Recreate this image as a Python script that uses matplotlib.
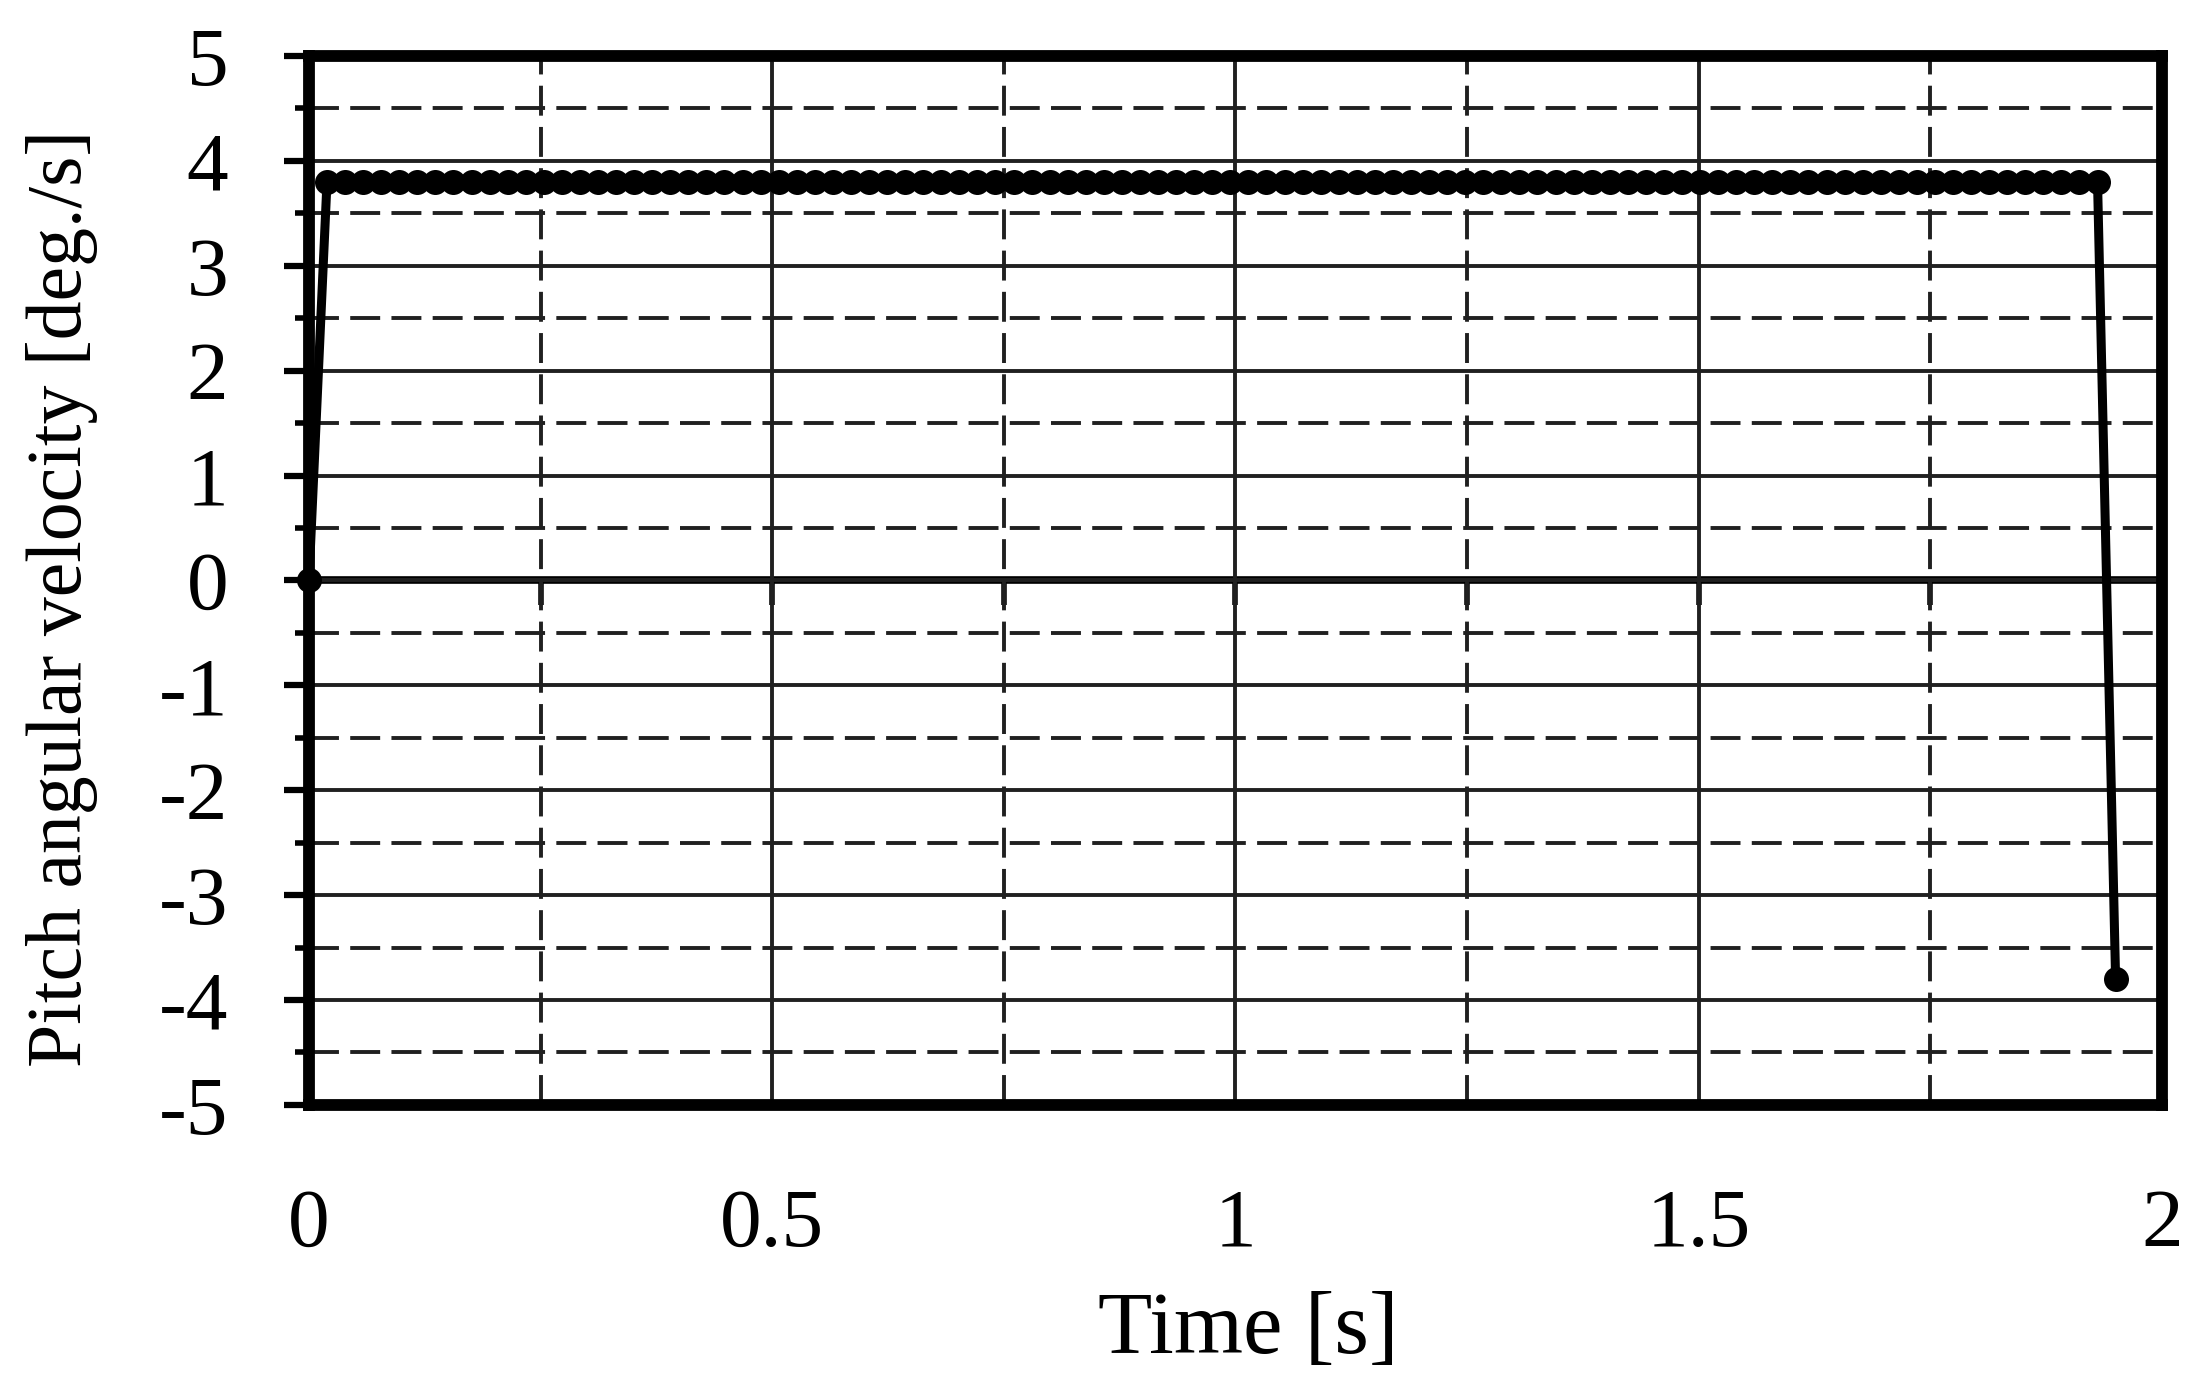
import matplotlib
matplotlib.use('Agg')
import matplotlib.pyplot as plt
from matplotlib.ticker import MultipleLocator, FuncFormatter, NullFormatter

plt.rcParams['font.family'] = ['Liberation Serif', 'DejaVu Serif']
plt.rcParams['axes.unicode_minus'] = False

# Time samples [s]
time_s = [
    0.0, 0.0195, 0.039, 0.0585, 0.078, 0.0975, 0.117, 0.1365, 0.156, 0.1755,
    0.195, 0.2145, 0.234, 0.2535, 0.273, 0.2925, 0.312, 0.3315, 0.351, 0.3705,
    0.39, 0.4095, 0.429, 0.4485, 0.468, 0.4875, 0.507, 0.5265, 0.546, 0.5655,
    0.585, 0.6045, 0.624, 0.6435, 0.663, 0.6825, 0.702, 0.7215, 0.741, 0.7605,
    0.78, 0.7995, 0.819, 0.8385, 0.858, 0.8775, 0.897, 0.9165, 0.936, 0.9555,
    0.975, 0.9945, 1.014, 1.0335, 1.053, 1.0725, 1.092, 1.1115, 1.131, 1.1505,
    1.17, 1.1895, 1.209, 1.2285, 1.248, 1.2675, 1.287, 1.3065, 1.326, 1.3455,
    1.365, 1.3845, 1.404, 1.4235, 1.443, 1.4625, 1.482, 1.5015, 1.521, 1.5405,
    1.56, 1.5795, 1.599, 1.6185, 1.638, 1.6575, 1.677, 1.6965, 1.716, 1.7355,
    1.755, 1.7745, 1.794, 1.8135, 1.833, 1.8525, 1.872, 1.8915, 1.911, 1.9305,
    1.95,
]

# Pitch angular velocity [deg./s]
pitch_rate = [
    0.0,
    3.8, 3.8, 3.8, 3.8, 3.8, 3.8, 3.8, 3.8, 3.8, 3.8, 3.8,
    3.8, 3.8, 3.8, 3.8, 3.8, 3.8, 3.8, 3.8, 3.8, 3.8, 3.8,
    3.8, 3.8, 3.8, 3.8, 3.8, 3.8, 3.8, 3.8, 3.8, 3.8, 3.8,
    3.8, 3.8, 3.8, 3.8, 3.8, 3.8, 3.8, 3.8, 3.8, 3.8, 3.8,
    3.8, 3.8, 3.8, 3.8, 3.8, 3.8, 3.8, 3.8, 3.8, 3.8, 3.8,
    3.8, 3.8, 3.8, 3.8, 3.8, 3.8, 3.8, 3.8, 3.8, 3.8, 3.8,
    3.8, 3.8, 3.8, 3.8, 3.8, 3.8, 3.8, 3.8, 3.8, 3.8, 3.8,
    3.8, 3.8, 3.8, 3.8, 3.8, 3.8, 3.8, 3.8, 3.8, 3.8, 3.8,
    3.8, 3.8, 3.8, 3.8, 3.8, 3.8, 3.8, 3.8, 3.8, 3.8, 3.8,
    -3.8,
]

grid_col = '#202020'

fig = plt.figure(figsize=(22.02, 13.96), dpi=100)
ax = fig.add_axes([0.1403, 0.2085, 0.8415, 0.7514])

ax.plot(time_s, pitch_rate, color='black', lw=6.5, marker='o', ms=18,
        markeredgewidth=0, zorder=5, clip_on=False)

ax.set_xlim(0, 2)
ax.set_ylim(-5, 5)

ax.xaxis.set_major_locator(MultipleLocator(0.5))
ax.xaxis.set_minor_locator(MultipleLocator(0.25))
ax.yaxis.set_major_locator(MultipleLocator(1))
ax.yaxis.set_minor_locator(MultipleLocator(0.5))
ax.xaxis.set_major_formatter(FuncFormatter(lambda v, p: f'{v:g}'))
ax.yaxis.set_major_formatter(FuncFormatter(lambda v, p: f'{v:g}'))

ax.grid(which='major', ls='-', lw=2.8, color=grid_col, zorder=1)
ax.grid(which='minor', ls=(0, (7.7, 2.9)), lw=2.8, color=grid_col, zorder=1)
ax.set_axisbelow(True)

ax.tick_params(axis='x', which='both', length=0, pad=60, labelsize=60)
ax.tick_params(axis='y', which='major', direction='out', length=18, width=4.5,
               pad=40, labelsize=60)
ax.tick_params(axis='y', which='minor', direction='out', length=10, width=4)

for s in ax.spines.values():
    s.set_linewidth(8.5)
    s.set_color('black')

# x axis crossing at y = 0 with its own tick marks
zero_axis = ax.secondary_xaxis(0, transform=ax.transData)
zero_axis.spines['bottom'].set_linewidth(5.5)
zero_axis.xaxis.set_major_locator(MultipleLocator(0.25))
zero_axis.xaxis.set_major_formatter(NullFormatter())
zero_axis.tick_params(direction='out', length=18, width=4, labelbottom=False)

ax.set_xlabel('Time [s]', fontsize=64)
ax.set_ylabel('Pitch angular velocity [deg./s]', fontsize=56)
ax.xaxis.set_label_coords(0.507, -0.177)
ax.yaxis.set_label_coords(-0.114, 0.483)

fig.savefig('out.png', dpi=100)
